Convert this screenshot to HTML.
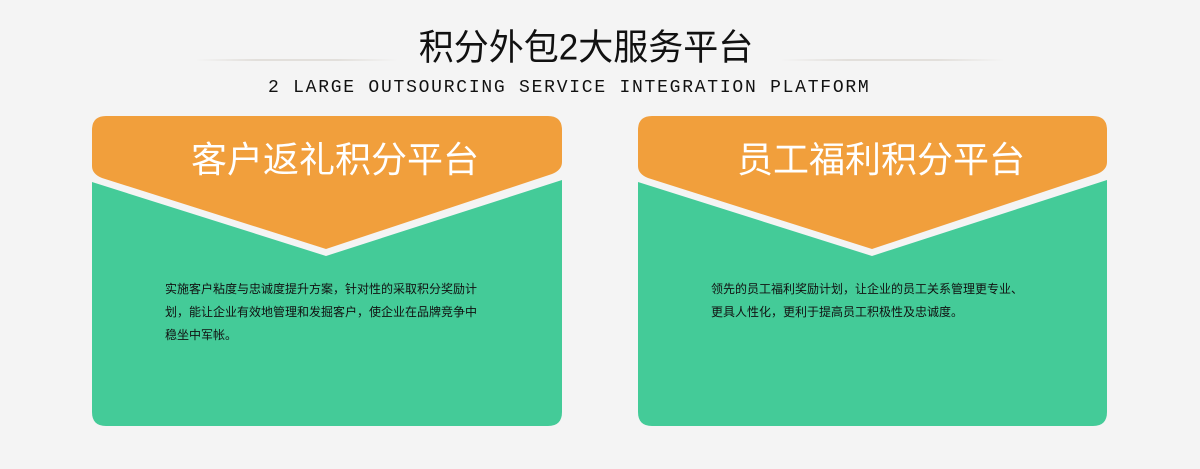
<!DOCTYPE html>
<html><head><meta charset="utf-8"><style>
body{margin:0;width:1200px;height:469px;background:#f4f4f4;overflow:hidden;position:relative;font-family:"Liberation Sans","Noto Sans CJK SC",sans-serif}
.t{position:absolute;left:0;width:1172px;text-align:center;top:28px;font-size:35px;color:#111;line-height:40px;transform:scaleY(1.03)}
.s{position:absolute;left:268px;top:78px;font-family:"Liberation Mono",monospace;font-size:18px;letter-spacing:1.75px;color:#111;white-space:nowrap}
.l{position:absolute;top:59px;height:2px;background:linear-gradient(90deg,rgba(225,222,218,0),#e2dfdb 30%,#e2dfdb 70%,rgba(225,222,218,0))}
.h{position:absolute;top:138px;width:470px;text-align:center;color:#fff;font-size:36px;line-height:44px}
.p{position:absolute;font-size:12px;line-height:23px;color:#111;font-family:"Liberation Sans","Noto Sans CJK SC",sans-serif;white-space:nowrap}
</style></head><body>
<div class="l" style="left:195px;width:203px"></div>
<div class="l" style="left:780px;width:225px"></div>
<div class="t">积分外包2大服务平台</div>
<div class="s">2 LARGE OUTSOURCING SERVICE INTEGRATION PLATFORM</div>
<svg width="1200" height="469" style="position:absolute;left:0;top:0">
<g>
<path d="M92 182 L326 256 L562 180 L562 412 Q562 426 548 426 L106 426 Q92 426 92 412 Z" fill="#44cb98"/>
<path d="M92 130 Q92 116 106 116 L548 116 Q562 116 562 130 L562 162 Q562 170 552 174 L326 249 L102 178 Q92 174 92 166 Z" fill="#f19f3c"/>
</g>
<g transform="translate(546,0)">
<path d="M92 182 L326 256 L561 180 L561 412 Q561 426 547 426 L106 426 Q92 426 92 412 Z" fill="#44cb98"/>
<path d="M92 130 Q92 116 106 116 L547 116 Q561 116 561 130 L561 162 Q561 170 551 174 L326 249 L102 178 Q92 174 92 166 Z" fill="#f19f3c"/>
</g>
</svg>
<div class="h" style="left:100px">客户返礼积分平台</div>
<div class="h" style="left:646px">员工福利积分平台</div>
<div class="p" style="left:165px;top:278px">实施客户粘度与忠诚度提升方案，针对性的采取积分奖励计<br>划，能让企业有效地管理和发掘客户，使企业在品牌竞争中<br>稳坐中军帐。</div>
<div class="p" style="left:711px;top:278px">领先的员工福利奖励计划，让企业的员工关系管理更专业、<br>更具人性化，更利于提高员工积极性及忠诚度。</div>
</body></html>
